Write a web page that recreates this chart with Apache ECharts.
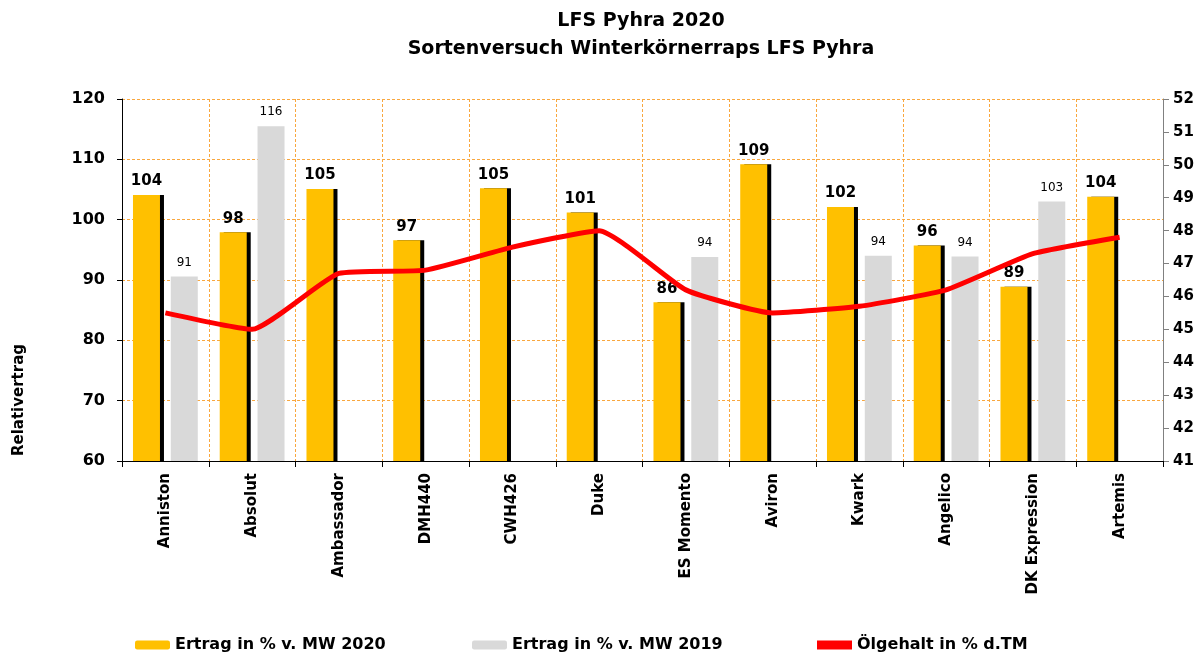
<!DOCTYPE html>
<html>
<head>
<meta charset="utf-8">
<script src="https://cdn.jsdelivr.net/npm/echarts@6/dist/echarts.min.js"></script>
<style>
  html, body { margin: 0; padding: 0; background: #fff; }
  #chart { width: 1203px; height: 657px; }
</style>
</head>
<body>
<div id="chart"></div>
<script>
const sorten = ["Anniston", "Absolut", "Ambassador", "DMH440", "CWH426", "Duke",
                "ES Momento", "Aviron", "Kwark", "Angelico", "DK Expression", "Artemis"];
const ertrag2020 = [104.1, 97.9, 105.1, 96.6, 105.2, 101.2, 86.3, 109.2, 102.1, 95.7, 88.9, 103.8];
const ertrag2019 = [90.6, 115.5, null, null, null, null, 93.8, null, 94.0, 93.9, 103.0, null];
const oelgehalt = [45.5, 45.0, 46.7, 46.8, 47.5, 48.0, 46.2, 45.5, 45.7, 46.2, 47.3, 47.8];

const names = ["Ertrag in % v. MW 2020", "Ertrag in % v. MW 2019", "Ölgehalt in % d.TM"];
const font = "DejaVu Sans";
const gridLine = { show: true, lineStyle: { color: "#F9A73E", type: [3, 2], width: 1 } };

const legendText = { color: "#000", fontFamily: font, fontWeight: "bold", fontSize: 16 };

const option = {
  animation: false,
  title: {
    text: "LFS Pyhra 2020\nSortenversuch Winterkörnerraps LFS Pyhra",
    left: 636,
    textAlign: "center",
    top: 2,
    textStyle: { fontFamily: font, fontWeight: "bold", fontSize: 19, lineHeight: 28, color: "#000" }
  },
  legend: [
    { data: [names[0]], left: 130, top: 632, itemWidth: 35, itemHeight: 9, itemGap: 5, textStyle: legendText },
    { data: [names[1]], left: 467, top: 632, itemWidth: 35, itemHeight: 9, itemGap: 5, textStyle: legendText },
    { data: [names[2]], left: 812, top: 632, itemWidth: 35, itemHeight: 9, itemGap: 5, textStyle: legendText,
      icon: "rect" }
  ],
  grid: { left: 122, right: 40, top: 99, bottom: 196 },
  xAxis: {
    type: "category",
    data: sorten,
    boundaryGap: true,
    axisLine: { lineStyle: { color: "#000", width: 1 } },
    axisTick: { show: true, length: 6, lineStyle: { color: "#000" } },
    axisLabel: { rotate: 90, margin: 12, color: "#000", fontFamily: font, fontWeight: "bold", fontSize: 15, interval: 0 },
    splitLine: gridLine
  },
  yAxis: [
    {
      type: "value", min: 60, max: 120, interval: 10,
      axisLine: { show: true, lineStyle: { color: "#000" } },
      axisTick: { show: true, length: 5, lineStyle: { color: "#000" } },
      axisLabel: { margin: 17, color: "#000", fontFamily: font, fontWeight: "bold", fontSize: 16 },
      splitLine: gridLine
    },
    {
      type: "value", min: 41, max: 52, interval: 1, position: "right",
      axisLine: { show: true, lineStyle: { color: "#808080" } },
      axisTick: { show: true, length: 6, lineStyle: { color: "#808080" } },
      axisLabel: { margin: 10, color: "#000", fontFamily: font, fontWeight: "bold", fontSize: 15 },
      splitLine: { show: false }
    }
  ],
  graphic: [{
    type: "text", x: 19, y: 400, rotation: Math.PI / 2,
    style: { text: "Relativertrag", fill: "#000", font: "bold 15px 'DejaVu Sans'", align: "center", verticalAlign: "middle" }
  }],
  series: [
    {
      name: names[0], type: "bar", data: ertrag2020, barWidth: 27, barGap: "40%",
      itemStyle: { color: "#FFC000", shadowColor: "#000", shadowOffsetX: 4, shadowOffsetY: 0.01, shadowBlur: 0 },
      label: {
        show: true, position: "top", distance: 6, color: "#000",
        fontFamily: font, fontWeight: "bold", fontSize: 15,
        formatter: (p) => Math.round(p.value)
      }
    },
    {
      name: names[1], type: "bar", data: ertrag2019, barWidth: 27,
      itemStyle: { color: "#D9D9D9" },
      label: {
        show: true, position: "top", distance: 8, color: "#000",
        fontFamily: font, fontSize: 12,
        formatter: (p) => Math.round(p.value)
      }
    },
    {
      name: names[2], type: "line", yAxisIndex: 1, data: oelgehalt,
      smooth: 0.15, symbol: "none",
      lineStyle: { color: "#FF0000", width: 5 },
      itemStyle: { color: "#FF0000" }
    }
  ]
};

const chart = echarts.init(document.getElementById("chart"));
chart.setOption(option);
window.addEventListener("resize", () => chart.resize());
</script>
</body>
</html>
